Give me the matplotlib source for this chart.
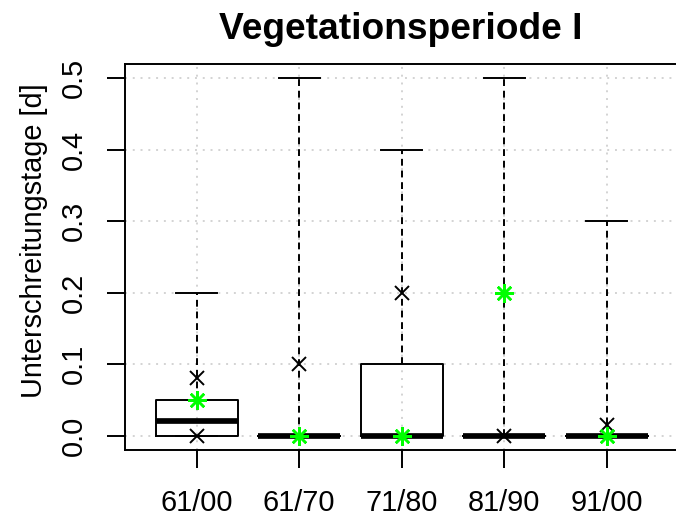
import matplotlib
matplotlib.use("Agg")
import matplotlib.pyplot as plt

categories = ["61/00", "61/70", "71/80", "81/90", "91/00"]
q1 = [0.0, 0.0, 0.0, 0.0, 0.0]
median = [0.02, 0.0, 0.0, 0.0, 0.0]
q3 = [0.05, 0.0, 0.1, 0.0, 0.0]
whisk_lo = [0.0, 0.0, 0.0, 0.0, 0.0]
whisk_hi = [0.2, 0.5, 0.4, 0.5, 0.3]
black_x = [0.08, 0.1, 0.2, 0.0, 0.015]
black_x2 = [0.0, None, None, None, None]
green_star = [0.05, 0.0, 0.0, 0.2, 0.0]
yticks = [0.0, 0.1, 0.2, 0.3, 0.4, 0.5]

plt.rcParams['font.family'] = ['Liberation Sans', 'DejaVu Sans']
W, H = 676, 521
fig = plt.figure(figsize=(W / 100, H / 100), dpi=100)
L, R, B, T = 125.0, 678.5, 449.8, 63.9
ax = fig.add_axes([L / W, 1 - B / H, (R - L) / W, (B - T) / H])

n = len(categories)
pos = list(range(1, n + 1))
ax.set_xlim(0.3, n + 0.7)
ax.set_ylim(-0.02, 0.52)

# grid
for p in pos:
    ax.axvline(p, color='#D3D3D3', ls=(0, (1, 3)), lw=1.4, zorder=0)
for yv in yticks:
    ax.axhline(yv, color='#D3D3D3', ls=(0, (1, 3)), lw=1.4, zorder=0)

bxp_stats = []
for i in range(n):
    bxp_stats.append(dict(med=median[i], q1=q1[i], q3=q3[i],
                          whislo=whisk_lo[i], whishi=whisk_hi[i],
                          fliers=[], label=categories[i]))
ax.bxp(bxp_stats, positions=pos, widths=0.8, showfliers=False,
       boxprops=dict(color='black', lw=1.4),
       medianprops=dict(color='black', lw=4.1, solid_capstyle='butt'),
       whiskerprops=dict(color='black', lw=1.4, ls=(0, (3.5, 2.5))),
       capprops=dict(color='black', lw=1.4),
       capwidths=0.4, manage_ticks=False, zorder=2)

ax.plot(pos, black_x, ls='none', marker='x', color='black', ms=10.3, mew=1.4, zorder=3)
bx2 = [(p, v) for p, v in zip(pos, black_x2) if v is not None]
ax.plot([p for p, v in bx2], [v for p, v in bx2], ls='none', marker='x',
        color='black', ms=10.3, mew=1.4, zorder=3)
ax.plot(pos, green_star, ls='none', marker=(8, 2, 0), color='#00FF00', ms=13.5, mew=1.8, zorder=4)

ax.set_xticks(pos)
ax.set_xticklabels(categories)
ax.set_yticks(yticks)
ax.set_yticklabels([f"{v:.1f}" for v in yticks], rotation=90, va='center')
ax.tick_params(axis='both', length=13, width=1.4, labelsize=20.8, color='black')
ax.tick_params(axis='x', pad=15.5)
ax.tick_params(axis='y', pad=14)
for s in ax.spines.values():
    s.set_linewidth(1.4)
ax.spines['right'].set_visible(False)

fig.text(400.5 / W, 1 - 39.3 / H, "Vegetationsperiode I", ha='center', va='baseline',
         fontsize=26.7, fontweight='bold')
fig.text(34 / W, 1 - 241 / H, "Unterschreitungstage [d]", ha='center', va='center',
         rotation=90, fontsize=20.8)

fig.savefig("out.png", dpi=100)
